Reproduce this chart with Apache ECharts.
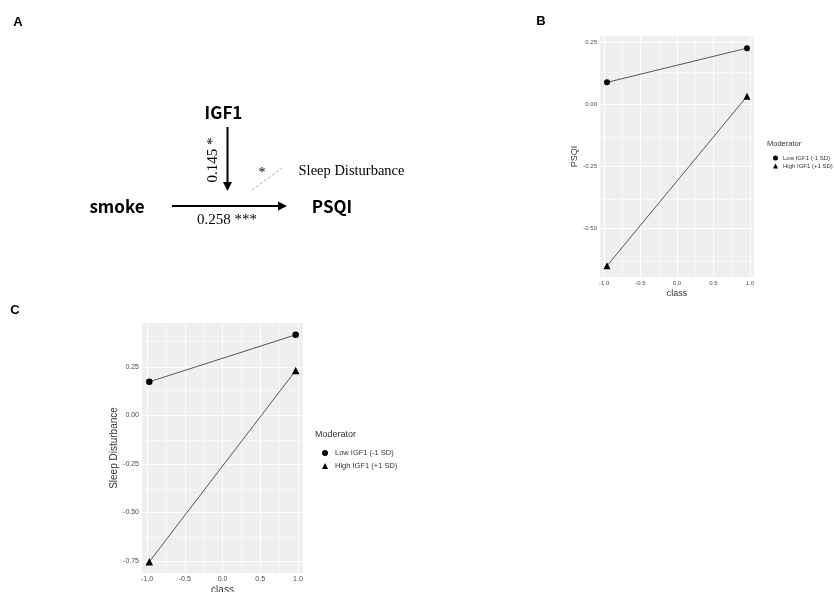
<!DOCTYPE html>
<html>
<head>
<meta charset="utf-8">
<script src="https://cdn.jsdelivr.net/npm/echarts@6/dist/echarts.min.js"></script>
<style>
    body { margin: 0; background: #fff; }
    #main { width: 834px; height: 592px; }
</style>
</head>
<body>
<div id="main"></div>
<script>
// 数据
const seriesNames = ['Low IGF1 (-1 SD)', 'High IGF1 (+1 SD)'];
const psqiX = [-0.96, 0.96];
const psqiLow = [0.090, 0.228];
const psqiHigh = [-0.650, 0.034];
const sleepX = [-0.97, 0.97];
const sleepLow = [0.173, 0.415];
const sleepHigh = [-0.755, 0.231];
const xTicks = [-1, -0.5, 0, 0.5, 1];
const xMinor = [-0.75, -0.25, 0.25, 0.75];
const psqiTicks = [-0.5, -0.25, 0, 0.25];
const psqiMinor = [-0.625, -0.375, -0.125, 0.125];
const sleepTicks = [-0.75, -0.5, -0.25, 0, 0.25];
const sleepMinor = [-0.625, -0.375, -0.125, 0.125, 0.375];

const labelGrey = '#4d4d4d';
const bg = '#EFEFEF';

// 把x,y拼成点
function toPoints(xs, ys) {
    return xs.map(function(x, i) { return [x, ys[i]]; });
}

// 网格线 (用markLine画, 刻度不从min开始)
function gridLines(idx, xMaj, xMin, yMaj, yMin) {
    const data = [];
    xMin.forEach(function(v) { data.push({ xAxis: v, lineStyle: { width: 0.5 } }); });
    yMin.forEach(function(v) { data.push({ yAxis: v, lineStyle: { width: 0.5 } }); });
    xMaj.forEach(function(v) { data.push({ xAxis: v, lineStyle: { width: 1 } }); });
    yMaj.forEach(function(v) { data.push({ yAxis: v, lineStyle: { width: 1 } }); });
    return {
        type: 'line',
        xAxisIndex: idx,
        yAxisIndex: idx,
        data: [],
        z: 1,
        silent: true,
        markLine: {
            z: 1,
            silent: true,
            symbol: 'none',
            label: { show: false },
            lineStyle: { color: '#fff', type: 'solid' },
            data: data
        }
    };
}

function pointSeries(idx, name, xs, ys, symbol, size) {
    return {
        type: 'line',
        name: name,
        xAxisIndex: idx,
        yAxisIndex: idx,
        data: toPoints(xs, ys),
        symbol: symbol,
        symbolSize: size,
        showSymbol: true,
        clip: false,
        z: 10,
        itemStyle: { color: '#000' },
        lineStyle: { color: '#444', width: 0.9 }
    };
}

function xAxisOf(idx, min, max, fontSize, nameGap, nameSize) {
    return {
        gridIndex: idx,
        type: 'value',
        min: min,
        max: max,
        name: 'class',
        nameLocation: 'middle',
        nameGap: nameGap,
        nameTextStyle: { color: '#333', fontSize: nameSize, fontFamily: 'Liberation Sans' },
        axisLine: { show: false },
        splitLine: { show: false },
        axisTick: { show: true, length: 2, customValues: xTicks, lineStyle: { color: '#666', width: 0.6 } },
        axisLabel: {
            customValues: xTicks,
            margin: 3,
            color: labelGrey,
            fontSize: fontSize,
            fontFamily: 'Liberation Sans',
            formatter: function(v) { return v.toFixed(1); }
        }
    };
}

function yAxisOf(idx, min, max, ticks, name, fontSize, nameGap, nameSize) {
    return {
        gridIndex: idx,
        type: 'value',
        min: min,
        max: max,
        name: name,
        nameLocation: 'middle',
        nameGap: nameGap,
        nameRotate: 90,
        nameTextStyle: { color: '#333', fontSize: nameSize, fontFamily: 'Liberation Sans' },
        axisLine: { show: false },
        splitLine: { show: false },
        axisTick: { show: true, length: 2, customValues: ticks, lineStyle: { color: '#666', width: 0.6 } },
        axisLabel: {
            customValues: ticks,
            margin: 3,
            color: labelGrey,
            fontSize: fontSize,
            fontFamily: 'Liberation Sans',
            formatter: function(v) { return v.toFixed(2); }
        }
    };
}

// 面板A的结构图
const serif = 'Liberation Serif';
const sansBold = 'Noto Sans CJK SC';
function txt(x, y, text, font, size, weight, extra) {
    const el = {
        type: 'text',
        x: x,
        y: y,
        style: {
            text: text,
            fontFamily: font,
            fontSize: size,
            fontWeight: weight,
            fill: '#000',
            align: 'center',
            verticalAlign: 'middle'
        }
    };
    return Object.assign(el, extra || {});
}
function legendTitle(x, y, size) {
    return {
        type: 'text',
        x: x,
        y: y,
        style: { text: 'Moderator', fontFamily: 'Liberation Sans', fontSize: size, fill: '#333', align: 'left', verticalAlign: 'middle' }
    };
}
function line(x1, y1, x2, y2, w, color, dash) {
    return {
        type: 'line',
        shape: { x1: x1, y1: y1, x2: x2, y2: y2 },
        style: { stroke: color, lineWidth: w, lineDash: dash || null }
    };
}
function tri(points) {
    return { type: 'polygon', shape: { points: points }, style: { fill: '#000' } };
}

const diagram = [
    txt(18, 22, 'A', 'Liberation Sans', 13, 'bold'),
    txt(541, 21, 'B', 'Liberation Sans', 13, 'bold'),
    txt(15, 310, 'C', 'Liberation Sans', 13, 'bold'),
    txt(223.5, 113, 'IGF1', sansBold, 17, 'bold'),
    line(227.5, 127, 227.5, 183, 2, '#000'),
    tri([[223, 182], [232, 182], [227.5, 191]]),
    txt(213, 160, '0.145 *', serif, 15, 'normal', { rotation: Math.PI / 2 }),
    txt(262, 173, '*', serif, 14, 'normal'),
    line(252, 190, 282, 168, 0.8, '#999', [3, 2]),
    txt(351.5, 171, 'Sleep Disturbance', serif, 14.5, 'normal'),
    txt(117, 207, 'smoke', sansBold, 17, 'bold'),
    line(172, 206, 279, 206, 2, '#000'),
    tri([[278, 201.5], [278, 210.5], [287, 206]]),
    txt(332, 207, 'PSQI', sansBold, 17, 'bold'),
    txt(227, 220, '0.258 ***', serif, 15, 'normal'),
    legendTitle(767, 144, 7.5),
    legendTitle(315, 435, 9)
];

const myChart = echarts.init(document.getElementById('main'), null, { renderer: 'canvas' });
const option = {
    animation: false,
    backgroundColor: '#fff',
    grid: [
        { left: 600, top: 36, width: 154, height: 241, show: true, backgroundColor: bg, borderWidth: 0, outerBoundsMode: 'none' },
        { left: 142, top: 323, width: 161, height: 250, show: true, backgroundColor: bg, borderWidth: 0, outerBoundsMode: 'none' }
    ],
    xAxis: [
        xAxisOf(0, -1.056, 1.056, 6, 12, 9),
        xAxisOf(1, -1.067, 1.067, 7, 12, 10)
    ],
    yAxis: [
        yAxisOf(0, -0.695, 0.277, psqiTicks, 'PSQI', 6, 15, 9),
        yAxisOf(1, -0.813, 0.476, sleepTicks, 'Sleep Disturbance', 7, 21, 10)
    ],
    legend: [
        {
            orient: 'vertical',
            left: 768,
            top: 150,
            itemWidth: 5,
            itemHeight: 5,
            itemGap: 2,
            textStyle: { fontSize: 6, color: '#333', fontFamily: 'Liberation Sans' },
            data: [{ name: seriesNames[0], icon: 'circle' }, { name: seriesNames[1], icon: 'triangle' }]
        },
        {
            orient: 'vertical',
            left: 317,
            top: 444,
            itemWidth: 6,
            itemHeight: 6,
            itemGap: 5,
            textStyle: { fontSize: 7.5, color: '#333', fontFamily: 'Liberation Sans', padding: [0, 0, 0, 2] },
            data: [{ name: seriesNames[0], icon: 'circle' }, { name: seriesNames[1], icon: 'triangle' }]
        }
    ],
    graphic: diagram,
    series: [
        gridLines(0, xTicks, xMinor, psqiTicks, psqiMinor),
        gridLines(1, xTicks, xMinor, sleepTicks, sleepMinor),
        pointSeries(0, seriesNames[0], psqiX, psqiLow, 'circle', 6),
        pointSeries(0, seriesNames[1], psqiX, psqiHigh, 'triangle', 7),
        pointSeries(1, seriesNames[0], sleepX, sleepLow, 'circle', 6.5),
        pointSeries(1, seriesNames[1], sleepX, sleepHigh, 'triangle', 7.5)
    ]
};
myChart.setOption(option);
</script>
</body>
</html>
